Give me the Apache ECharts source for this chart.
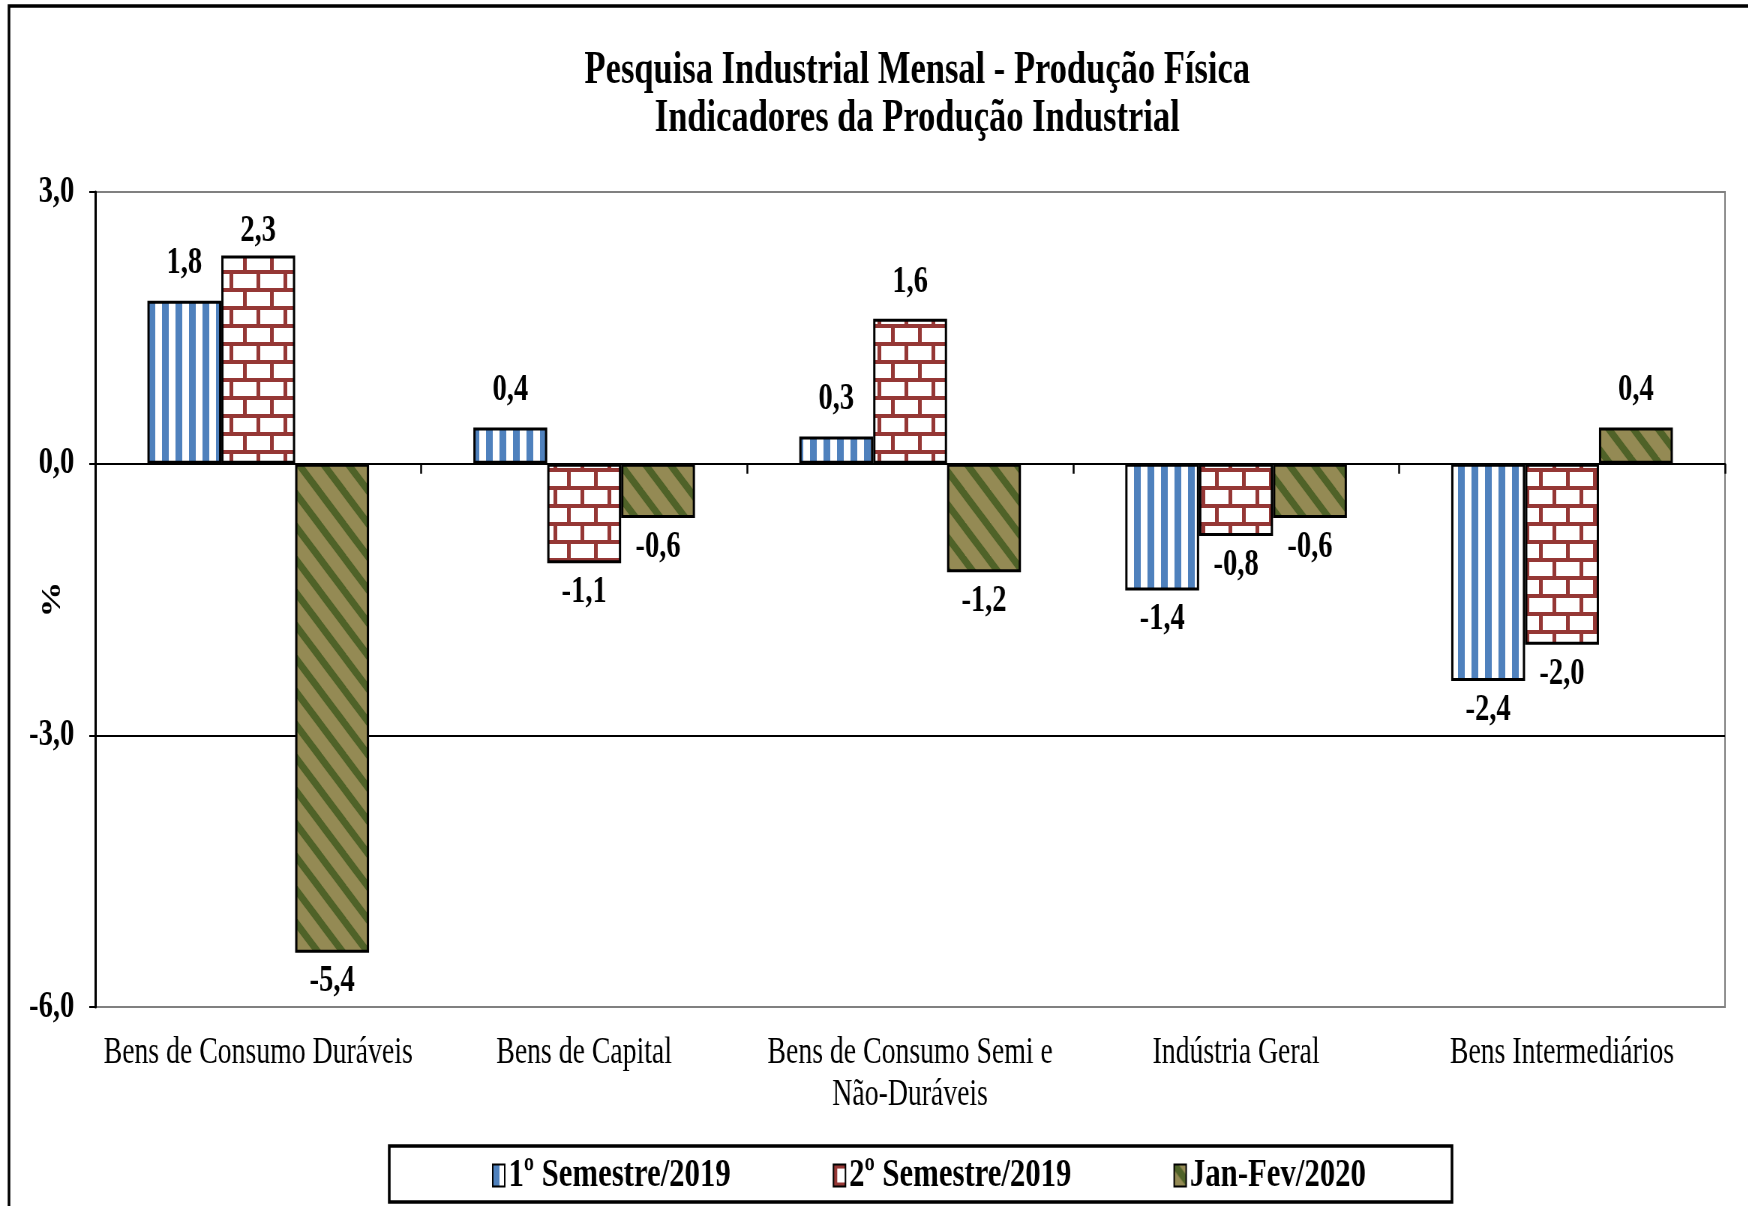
<!DOCTYPE html>
<html><head><meta charset="utf-8">
<script src="https://cdn.jsdelivr.net/npm/echarts@6/dist/echarts.min.js"></script>
<style>
html,body{margin:0;padding:0;overflow:hidden;background:#fff;width:1748px;height:1206px}
#c{width:2331px;height:1206px;transform:scaleX(0.75);transform-origin:0 0;}
</style>
</head><body><div id="c"></div>
<script>
// ---- data ----
const titleText = 'Pesquisa Industrial Mensal - Produção Física\nIndicadores da Produção Industrial';
const categories = ['Bens de Consumo Duráveis', 'Bens de Capital', 'Bens de Consumo Semi e\nNão-Duráveis', 'Indústria Geral', 'Bens Intermediários'];
const seriesNames = ['1º Semestre/2019', '2º Semestre/2019', 'Jan-Fev/2020'];
const sem1 = [1.8, 0.4, 0.3, -1.4, -2.4];
const sem2 = [2.3, -1.1, 1.6, -0.8, -2.0];
const janFev = [-5.4, -0.6, -1.2, -0.6, 0.4];
const yMin = -6, yMax = 3, yInterval = 3;
const yName = '%';

// ---- patterns ----
function mk(w, h) { const c = document.createElement('canvas'); c.width = w; c.height = h; return c; }
function stripePattern() {
  const c = mk(18, 18), g = c.getContext('2d');
  g.fillStyle = '#ffffff'; g.fillRect(0, 0, 18, 18);
  g.fillStyle = '#4f81bd'; g.fillRect(0, 0, 9, 18);
  return c;
}
function brickPattern() {
  const w = 36, h = 36, c = mk(w, h), g = c.getContext('2d');
  g.fillStyle = '#ffffff'; g.fillRect(0, 0, w, h);
  g.fillStyle = '#953735';
  g.fillRect(0, 0, w, 4); g.fillRect(0, 18, w, 4);
  g.fillRect(0, 4, 5, 14); g.fillRect(18, 22, 5, 14);
  return c;
}
function diagPattern() {
  const s = 33, c = mk(s, s), g = c.getContext('2d');
  g.fillStyle = '#948a54'; g.fillRect(0, 0, s, s);
  g.strokeStyle = '#4f6228'; g.lineWidth = 8;
  for (let k = -2; k <= 2; k++) {
    g.beginPath(); g.moveTo(k * s - 6, -6); g.lineTo(k * s + s + 6, s + 6); g.stroke();
  }
  return c;
}
const fills = [stripePattern(), brickPattern(), diagPattern()].map(img => ({ image: img, repeat: 'repeat' }));

const FONT = '"Liberation Serif", "DejaVu Serif", serif';
const fmt = v => v.toFixed(1).replace('.', ',');

function mkData(arr) {
  return arr.map(v => ({
    value: v,
    label: { position: v >= 0 ? 'top' : 'bottom', distance: v >= 0 ? (v > 2 ? 5 : 18) : 10 }
  }));
}

const chart = echarts.init(document.getElementById('c'), null, { renderer: 'canvas' });
const seriesData = [sem1, sem2, janFev];
chart.setOption({
  backgroundColor: '#ffffff',
  animation: false,
  title: {
    text: titleText, left: 1223, top: 47, textAlign: 'center', padding: 0,
    textStyle: { fontFamily: FONT, fontWeight: 'bold', fontSize: 46, lineHeight: 48, color: '#000' }
  },
  graphic: [
    { type: 'rect', z: 100, silent: true, shape: { x: 12, y: 6, width: 2400, height: 1300 }, style: { fill: 'none', stroke: '#000', lineWidth: 3.5 } },
    { type: 'rect', z: 100, silent: true, shape: { x: 519, y: 1146, width: 1417, height: 56 }, style: { fill: 'none', stroke: '#000', lineWidth: 3.5 } }
  ],
  legend: {
    data: seriesNames, left: 656, top: 1155, padding: 0, itemGap: 136,
    itemWidth: 16, itemHeight: 22, icon: 'rect',
    itemStyle: { borderColor: '#000', borderWidth: 2 },
    textStyle: { fontFamily: FONT, fontWeight: 'bold', fontSize: 41, color: '#000' }
  },
  grid: { left: 127, right: 31, top: 192, bottom: 199, outerBoundsMode: 'none', containLabel: false, show: true, borderColor: '#808080', borderWidth: 2, backgroundColor: 'transparent' },
  xAxis: [
    {
      type: 'category', data: categories, position: 'bottom',
      axisLine: { onZero: true, lineStyle: { color: '#000', width: 2 } },
      axisTick: { show: true, length: 10, lineStyle: { color: '#000', width: 2.5 } },
      axisLabel: { show: false }, splitLine: { show: false }
    },
    {
      type: 'category', data: categories, position: 'bottom',
      axisLine: { show: false, onZero: false }, axisTick: { show: false }, splitLine: { show: false },
      axisLabel: { margin: 25, fontFamily: FONT, fontSize: 37, lineHeight: 42, color: '#000', interval: 0 }
    }
  ],
  yAxis: {
    type: 'value', min: yMin, max: yMax, interval: yInterval,
    name: yName, nameLocation: 'middle', nameGap: 38, nameRotate: 90, nameMoveOverlap: false,
    nameTextStyle: { fontFamily: FONT, fontWeight: 'bold', fontSize: 36, color: '#000' },
    axisLine: { show: true, lineStyle: { color: '#000', width: 3 } },
    axisTick: { show: true, length: 8, lineStyle: { color: '#000', width: 2 } },
    axisLabel: { margin: 28, fontFamily: FONT, fontWeight: 'bold', fontSize: 38, color: '#000', formatter: fmt },
    splitLine: { show: true, lineStyle: { color: ['#808080', '#000000', '#000000', '#808080'], width: 2 } }
  },
  series: seriesNames.map((name, i) => ({
    name, type: 'bar', xAxisIndex: 0, data: mkData(seriesData[i]),
    barGap: '0%', barCategoryGap: '32%',
    itemStyle: { color: fills[i], borderColor: '#000', borderWidth: 3 },
    label: {
      show: true, fontFamily: FONT, fontWeight: 'bold', fontSize: 38, color: '#000',
      formatter: p => fmt(p.value)
    }
  }))
});
</script>
</body></html>
